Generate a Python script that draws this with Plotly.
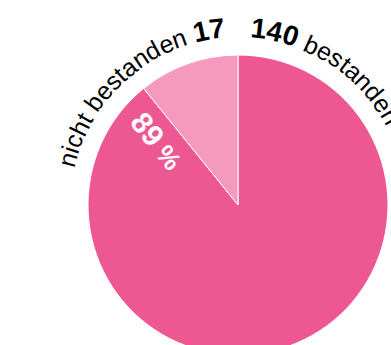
import math
import plotly.graph_objects as go

# data
labels = ["bestanden", "nicht bestanden"]
values = [140, 17]
colors = ["#EE5892", "#F59ABD"]

W, H = 391, 355
CX, CY, R = 238, 205, 150
R_TEXT = 168          # baseline radius of the curved labels
GAP = 12              # arc gap (px) between labels and the 12 o'clock line
FS, FS_BOLD = 25, 28
FONT = "Liberation Sans, Arial, sans-serif"

# Arial advance widths (per 1000 em)
WIDTHS = {"n": 556, "i": 222, "c": 500, "h": 556, "t": 278, " ": 278, "b": 556,
          "e": 556, "s": 500, "a": 556, "d": 556}
DIGIT = 556


def px(x, y):
    return x / W, 1 - y / H


def seg_width(text, size):
    return sum((DIGIT if ch.isdigit() else WIDTHS.get(ch, 556)) * size / 1000 for ch in text)


def curved(segments, start_angle):
    # place each char along the circle, start_angle in degrees clockwise from top
    anns = []
    pos = start_angle * math.pi / 180 * R_TEXT
    for text, size, bold in segments:
        for ch in text:
            w = seg_width(ch, size)
            a = (pos + w / 2) / R_TEXT
            pos += w
            if ch == " ":
                continue
            rc = R_TEXT + 0.35 * size
            x, y = px(CX + rc * math.sin(a), CY - rc * math.cos(a))
            anns.append(dict(x=x, y=y, xref="paper", yref="paper", text=ch,
                             showarrow=False, textangle=math.degrees(a),
                             xanchor="center", yanchor="middle",
                             font=dict(family=FONT, size=size, color="#000",
                                       weight="bold" if bold else "normal")))
    return anns


fig = go.Figure()
fig.add_trace(go.Pie(
    labels=labels, values=values, sort=False, direction="clockwise", rotation=0,
    marker=dict(colors=colors, line=dict(color="#fff", width=1)),
    textinfo="none", hoverinfo="label+value", showlegend=False,
    domain=dict(x=[(CX - R) / W, (CX + R) / W], y=[(H - CY - R) / H, (H - CY + R) / H]),
))

total = sum(values)
left = [("nicht bestanden ", FS, False), (str(values[1]), FS_BOLD, True)]
left_len = sum(seg_width(t, s) for t, s, b in left)
right = [(str(values[0]), FS_BOLD, True), (" " + labels[0], FS, False)]
anns = curved(left, -math.degrees((GAP + left_len) / R_TEXT))
anns += curved(right, math.degrees(GAP / R_TEXT))

# percentage along the slice boundary
b = -360 * values[1] / total * math.pi / 180
along, perp = 101, 23
tx = CX + along * math.sin(b) - perp * math.cos(b)
ty = CY - along * math.cos(b) - perp * math.sin(b)
x, y = px(tx, ty)
anns.append(dict(x=x, y=y, xref="paper", yref="paper", showarrow=False,
                 text=f"{round(values[0] / total * 100)}<span style='font-size:26px'> %</span>",
                 textangle=90 + math.degrees(b),
                 font=dict(family=FONT, size=30, color="#fff", weight="bold")))

fig.update_layout(width=W, height=H, margin=dict(l=0, r=0, t=0, b=0),
                  paper_bgcolor="#fff", plot_bgcolor="#fff", annotations=anns)

fig.write_html("out.html", config={"displayModeBar": False},
               post_script="document.body.style.margin='0';document.body.style.overflow='hidden';"
                           "document.documentElement.style.overflow='hidden';")
